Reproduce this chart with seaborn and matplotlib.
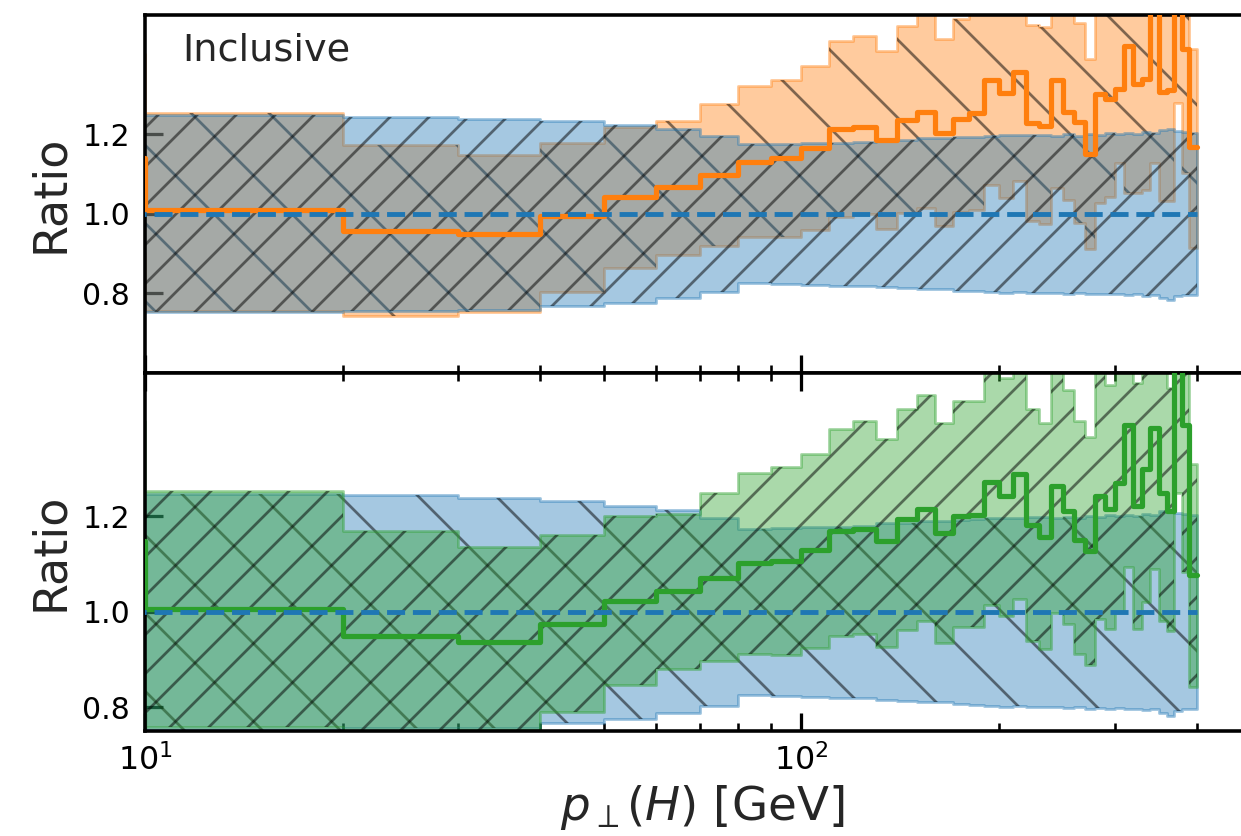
import matplotlib
matplotlib.use("Agg")
import matplotlib.pyplot as plt
import seaborn as sns
import pandas as pd

# ---------------- data ----------------
edges = [5, 10, 20, 30, 40, 50, 60, 70, 80, 90, 100, 110, 120, 130, 140, 150,
         160, 170, 180, 190, 200, 210, 220, 230, 240, 250, 260, 270, 280, 290,
         300, 310, 320, 330, 340, 350, 360, 370, 380, 390, 400]

ref_x = [5, 400]
ref_y = [1.0, 1.0]

blue_hi = [1.25, 1.247, 1.244, 1.238, 1.232, 1.222, 1.212, 1.195, 1.174, 1.175,
           1.177, 1.178, 1.180, 1.185, 1.186, 1.190, 1.190, 1.192, 1.193, 1.195,
           1.197, 1.197, 1.198, 1.198, 1.195, 1.199, 1.196, 1.200, 1.198, 1.202,
           1.200, 1.203, 1.200, 1.204, 1.202, 1.210, 1.212, 1.207, 1.205, 1.203]
blue_lo = [0.75, 0.752, 0.756, 0.757, 0.767, 0.775, 0.788, 0.803, 0.826, 0.824,
           0.821, 0.819, 0.818, 0.815, 0.812, 0.810, 0.810, 0.806, 0.805, 0.803,
           0.801, 0.802, 0.800, 0.800, 0.801, 0.798, 0.800, 0.797, 0.799, 0.797,
           0.798, 0.795, 0.797, 0.794, 0.796, 0.788, 0.782, 0.792, 0.795, 0.796]

orange_c = [1.14, 1.008, 0.956, 0.949, 0.993, 1.042, 1.067, 1.098, 1.131, 1.139,
            1.164, 1.212, 1.218, 1.185, 1.235, 1.256, 1.202, 1.239, 1.252, 1.337,
            1.302, 1.356, 1.227, 1.220, 1.337, 1.256, 1.231, 1.150, 1.300, 1.288,
            1.313, 1.422, 1.325, 1.338, 1.60, 1.306, 1.310, 1.60, 1.414, 1.168]
orange_hi = [1.40, 1.253, 1.172, 1.148, 1.178, 1.218, 1.233, 1.275, 1.322, 1.337,
             1.372, 1.433, 1.447, 1.408, 1.472, 1.55, 1.439, 1.49, 1.55, 1.60,
             1.58, 1.62, 1.475, 1.468, 1.60, 1.55, 1.48, 1.389, 1.60, 1.58,
             1.60, 1.70, 1.60, 1.60, 1.90, 1.60, 1.60, 1.90, 1.70, 1.414]
orange_lo = [0.90, 0.756, 0.742, 0.752, 0.803, 0.864, 0.897, 0.918, 0.942, 0.942,
             0.960, 0.992, 0.998, 0.962, 1.002, 1.014, 0.968, 1.003, 1.010, 1.072,
             1.039, 1.081, 0.981, 0.973, 1.064, 1.035, 0.977, 0.912, 1.027, 1.043,
             1.128, 1.053, 1.053, 1.060, 1.127, 1.031, 1.031, 1.277, 1.102, 0.914]

green_c = [1.147, 1.006, 0.949, 0.937, 0.974, 1.023, 1.044, 1.071, 1.101, 1.106,
           1.128, 1.168, 1.173, 1.147, 1.194, 1.215, 1.164, 1.201, 1.203, 1.272,
           1.243, 1.288, 1.182, 1.157, 1.262, 1.210, 1.150, 1.126, 1.242, 1.214,
           1.270, 1.390, 1.222, 1.298, 1.385, 1.249, 1.210, 1.60, 1.390, 1.076]
green_hi = [1.40, 1.253, 1.168, 1.135, 1.161, 1.200, 1.205, 1.248, 1.290, 1.302,
            1.330, 1.383, 1.400, 1.362, 1.425, 1.454, 1.394, 1.441, 1.441, 1.51,
            1.49, 1.56, 1.425, 1.394, 1.52, 1.464, 1.40, 1.365, 1.55, 1.475,
            1.55, 1.60, 1.478, 1.55, 1.60, 1.55, 1.468, 1.70, 1.55, 1.309]
green_lo = [0.90, 0.759, 0.745, 0.752, 0.789, 0.846, 0.879, 0.896, 0.911, 0.910,
            0.923, 0.949, 0.953, 0.926, 0.961, 0.981, 0.935, 0.967, 0.967, 1.013,
            0.990, 1.027, 0.939, 0.921, 0.996, 0.975, 0.911, 0.889, 0.985, 0.963,
            1.000, 1.094, 0.963, 1.020, 1.090, 0.981, 0.960, 1.248, 1.083, 0.843]

yticks = [0.8, 1.0, 1.2]

C_BLUE, C_ORANGE, C_GREEN = "#1f77b4", "#ff7f0e", "#2ca02c"

# ---------------- style ----------------
DPI = 468
sns.set_theme(style="ticks")
plt.rcParams["font.family"] = ["DejaVu Sans"]
plt.rcParams["mathtext.fontset"] = "dejavusans"
plt.rcParams["hatch.color"] = "black"
plt.rcParams["hatch.linewidth"] = 0.42

fig = plt.figure(figsize=(1241.3 / DPI, 836.3 / DPI), dpi=DPI)
fig.patch.set_facecolor("white")
L = 145 / 1241
W = (1260 - 145) / 1241
H = 358 / 836
ax_top = fig.add_axes([L, (836 - 373) / 836, W, H])
ax_bot = fig.add_axes([L, (836 - 731) / 836, W, H])

HATCH_DENSE = "////"
HATCH_SPARSE = "\\\\"


def ext(v):
    return list(v) + [v[-1]]


def band(ax, lo, hi, color, hatch, z):
    # coloured translucent fill with coloured outline
    ax.fill_between(edges, ext(lo), ext(hi), step="post", facecolor=color,
                    edgecolor=color, alpha=0.4, linewidth=0.45, zorder=z)
    # black hatch layer of the same band
    ax.fill_between(edges, ext(lo), ext(hi), step="post", facecolor="none",
                    edgecolor=(0, 0, 0, 0.5), hatch=hatch, linewidth=0.0,
                    zorder=z + 0.5)


def step_line(ax, vals, color, z):
    df = pd.DataFrame({"x": edges, "y": ext(vals)})
    sns.lineplot(data=df, x="x", y="y", drawstyle="steps-post", color=color,
                 linewidth=0.8, ax=ax, zorder=z, sort=False)


def ref_line(ax):
    df = pd.DataFrame({"x": ref_x, "y": ref_y})
    sns.lineplot(data=df, x="x", y="y", color=C_BLUE, linestyle="--",
                 linewidth=0.75, ax=ax, zorder=6, sort=False)


# top panel: orange below, blue above
band(ax_top, orange_lo, orange_hi, C_ORANGE, HATCH_SPARSE, 1)
band(ax_top, blue_lo, blue_hi, C_BLUE, HATCH_DENSE, 2)
step_line(ax_top, orange_c, C_ORANGE, 5)
ref_line(ax_top)

# bottom panel: blue below, green above
band(ax_bot, blue_lo, blue_hi, C_BLUE, HATCH_SPARSE, 1)
band(ax_bot, green_lo, green_hi, C_GREEN, HATCH_DENSE, 2)
step_line(ax_bot, green_c, C_GREEN, 5)
ref_line(ax_bot)

for ax in (ax_top, ax_bot):
    ax.set_xscale("log")
    ax.set_xlim(10, 500)
    ax.set_yticks(yticks)
    ax.set_yticklabels([f"{t:.1f}" for t in yticks])
    ax.tick_params(which="both", direction="in", labelsize=4.6, colors="black")
    ax.tick_params(which="major", length=2.8, width=0.5)
    ax.tick_params(which="minor", length=1.25, width=0.4)
    ax.tick_params(axis="y", which="both", left=True, right=False, pad=2.3)
    ax.tick_params(axis="x", pad=2.0, labelsize=4.9)
    for s in ax.spines.values():
        s.set_linewidth(0.55)
        s.set_color("black")
    ax.set_ylabel("Ratio", fontsize=7.1)
    ax.yaxis.set_label_coords(-0.0646, 0.5)
    ax.set_facecolor("white")

ax_top.set_ylim(0.6, 1.5)
ax_bot.set_ylim(0.75, 1.5)

ax_top.tick_params(axis="x", which="both", bottom=True, top=False,
                   labelbottom=False)
ax_top.set_xlabel("")
ax_bot.tick_params(axis="x", which="both", bottom=True, top=True)
ax_bot.set_xlabel(r"$p_\perp(H)$ [GeV]", fontsize=7.2, labelpad=1.0)

ax_top.text(0.033, 0.95, "Inclusive", transform=ax_top.transAxes,
            ha="left", va="top", fontsize=5.9)

fig.savefig("out.png", dpi=DPI, facecolor="white")
